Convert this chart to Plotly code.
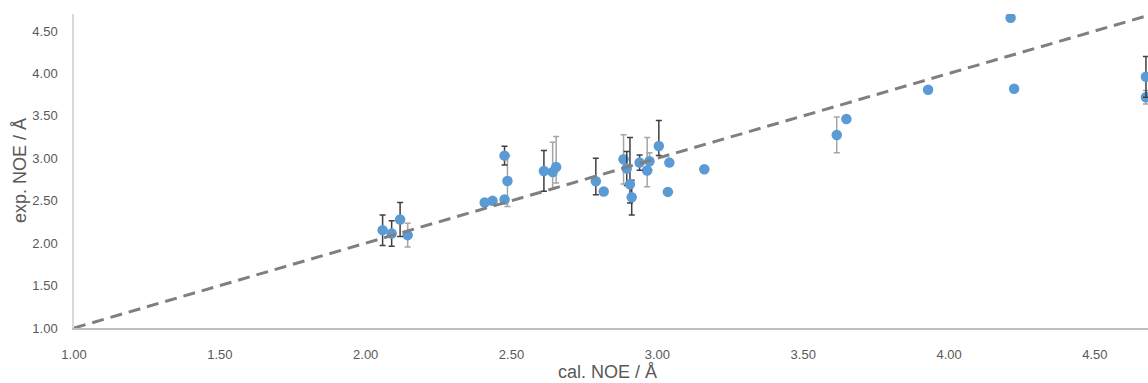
import plotly.graph_objects as go

# Series with dark error bars
x_dark = [2.058, 2.089, 2.118, 2.476, 2.611, 2.789, 2.895, 2.906, 2.912, 2.939, 3.005, 4.675]
y_dark = [2.153, 2.114, 2.279, 3.031, 2.851, 2.729, 2.879, 2.694, 2.541, 2.949, 3.144, 3.960]
err_dark_plus = [0.18, 0.15, 0.20, 0.11, 0.24, 0.27, 0.20, 0.55, 0.20, 0.09, 0.30, 0.24]
err_dark_minus = [0.18, 0.15, 0.20, 0.11, 0.24, 0.16, 0.20, 0.22, 0.21, 0.09, 0.11, 0.24]

# Series with light error bars
x_light = [2.144, 2.486, 2.641, 2.653, 2.884, 2.965, 2.973, 3.615, 4.675]
y_light = [2.094, 2.733, 2.839, 2.898, 2.988, 2.855, 2.965, 3.275, 3.720]
err_light_plus = [0.14, 0.30, 0.35, 0.36, 0.29, 0.39, 0.10, 0.21, 0.08]
err_light_minus = [0.14, 0.30, 0.20, 0.19, 0.29, 0.19, 0.10, 0.21, 0.08]

# Points without error bars
x_plain = [2.408, 2.435, 2.476, 2.816, 3.041, 3.036, 3.161, 3.648, 3.928, 4.211, 4.223]
y_plain = [2.479, 2.498, 2.514, 2.608, 2.949, 2.604, 2.871, 3.463, 3.808, 4.655, 3.820]

# Reference line y = x
line_x = [1.0, 4.75]
line_y = [1.0, 4.75]

tick_values = [1.0, 1.5, 2.0, 2.5, 3.0, 3.5, 4.0, 4.5]
x_title = "cal. NOE / Å"
y_title = "exp. NOE / Å"

MARKER = dict(color="#5B9BD5", size=10.5, line=dict(width=0))
FONT = "Liberation Sans"

fig = go.Figure()

fig.add_trace(go.Scatter(
    x=x_light, y=y_light, mode="markers", marker=MARKER,
    error_y=dict(type="data", symmetric=False, array=err_light_plus,
                 arrayminus=err_light_minus, color="#A5A5A5", thickness=1.5, width=3),
    showlegend=False, hoverinfo="x+y"))

fig.add_trace(go.Scatter(
    x=x_dark, y=y_dark, mode="markers", marker=MARKER,
    error_y=dict(type="data", symmetric=False, array=err_dark_plus,
                 arrayminus=err_dark_minus, color="#404040", thickness=1.5, width=3),
    showlegend=False, hoverinfo="x+y"))

fig.add_trace(go.Scatter(
    x=x_plain, y=y_plain, mode="markers", marker=MARKER,
    showlegend=False, hoverinfo="x+y"))

fig.add_trace(go.Scatter(
    x=line_x, y=line_y, mode="lines",
    line=dict(color="#7F7F7F", width=3, dash="12px,7px"),
    showlegend=False, hoverinfo="skip"))

fig.update_layout(
    width=1148, height=383,
    margin=dict(l=74, r=0, t=14, b=55),
    paper_bgcolor="white", plot_bgcolor="white",
    font=dict(family=FONT, color="#595959"),
    xaxis=dict(
        range=[1.0, 4.682], tickvals=tick_values, automargin=False,
        tickformat=".2f", showgrid=False, zeroline=False,
        showline=True, linecolor="#BFBFBF", linewidth=1.5,
        ticks="", ticklabelstandoff=14,
        tickfont=dict(family=FONT, size=13, color="#595959"),
    ),
    yaxis=dict(
        range=[1.0, 4.7], tickvals=tick_values, automargin=False,
        tickformat=".2f", showgrid=False, zeroline=False,
        showline=True, linecolor="#D9D9D9", linewidth=1.5,
        ticks="", ticklabelstandoff=12,
        tickfont=dict(family=FONT, size=13, color="#595959"),
    ),
    annotations=[
        dict(text=x_title, xref="paper", yref="paper", x=0.5, y=0,
             xshift=-4, yshift=-44, showarrow=False, xanchor="center", yanchor="middle",
             font=dict(family=FONT, size=18, color="#595959")),
        dict(text=y_title, xref="paper", yref="paper", x=0, y=0.5,
             xshift=-54, showarrow=False, xanchor="center", yanchor="middle",
             textangle=-90, font=dict(family=FONT, size=18, color="#595959")),
    ],
)

fig.write_html(
    "out.html",
    config={"displayModeBar": False},
    post_script="document.body.style.margin='0';document.body.style.overflow='hidden';",
)
